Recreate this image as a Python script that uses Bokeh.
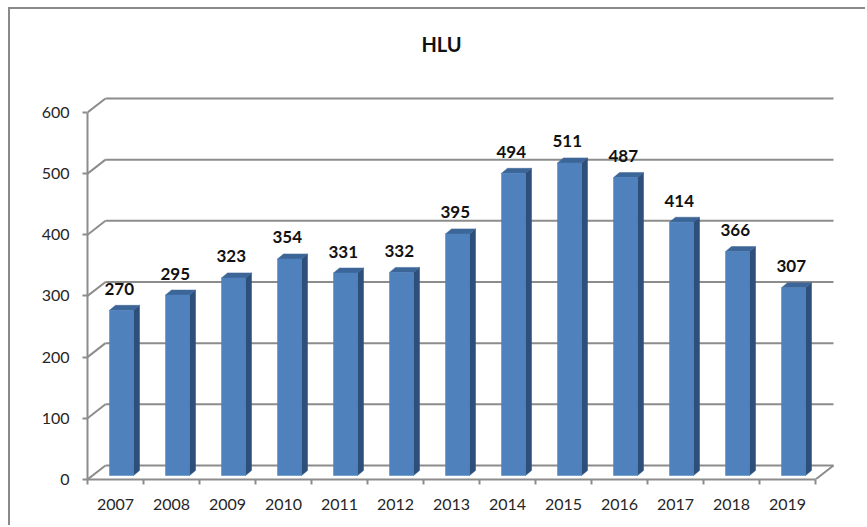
from bokeh.plotting import figure
from bokeh.models import FixedTicker, Range1d
from bokeh.core.properties import value
from bokeh.embed import file_html
from bokeh.resources import INLINE

# ---- data ----
years = ["2007", "2008", "2009", "2010", "2011", "2012", "2013",
         "2014", "2015", "2016", "2017", "2018", "2019"]
counts = [270, 295, 323, 354, 331, 332, 395, 494, 511, 487, 414, 366, 307]
y_ticks = [0, 100, 200, 300, 400, 500, 600]
title_text = "HLU"

# ---- geometry (pixel constants -> data units) ----
PX_X = 56.0          # px per category
PX_Y = 0.6117        # px per value unit
WALL_DX = 18.0 / PX_X          # depth of the floor / back wall
WALL_DY = 14.0 / PX_Y
BAR_BASE = 4.0 / PX_Y          # bars stand a bit behind the front edge
BAR_L = -6.0 / PX_X            # front face left, relative to category centre
BAR_R = 18.0 / PX_X            # front face right
BAR_DX = 6.0 / PX_X            # bar depth
BAR_DY = 5.0 / PX_Y

FRONT = "#4f81bd"
SIDE = "#2d4f7a"
TOP = "#3c6598"
GRID = "#8c8c8c"
FONT = "Lato"

n = len(years)
xs = list(range(n))

p = figure(width=857, height=518, output_backend="svg", toolbar_location=None,
           x_range=Range1d(-0.5, 13.125), y_range=Range1d(0, 459.0 / PX_Y),
           min_border_left=77, min_border_right=17, min_border_top=11,
           min_border_bottom=48)
p.styles = {"margin-left": "8px", "margin-top": "7px",
            "border-top": "2px solid #8a8a8a", "border-left": "2px solid #8a8a8a"}
p.outline_line_color = None
p.xgrid.visible = False
p.ygrid.visible = False
p.background_fill_color = "white"
p.border_fill_color = "white"

# ---- y axis (front edge) ----
ya = p.yaxis[0]
ya.ticker = FixedTicker(ticks=y_ticks)
ya.bounds = (0, 600)
ya.axis_line_color = GRID
ya.axis_line_width = 2
ya.major_tick_line_color = GRID
ya.major_tick_line_width = 2
ya.major_tick_out = 5
ya.major_tick_in = 0
ya.minor_tick_line_color = None
ya.major_label_standoff = 13
ya.major_label_text_font = FONT
ya.major_label_text_font_size = "16px"
ya.major_label_text_color = "#262626"

# ---- x axis (front floor edge) ----
xa = p.xaxis[0]
xa.ticker = FixedTicker(ticks=xs, minor_ticks=[i - 0.5 for i in range(n + 1)])
xa.bounds = (-0.5, n - 0.5)
xa.major_label_overrides = {i: y for i, y in enumerate(years)}
xa.axis_line_color = GRID
xa.axis_line_width = 2
xa.major_tick_line_color = None
xa.major_tick_out = 0
xa.major_tick_in = 0
xa.minor_tick_line_color = GRID
xa.minor_tick_line_width = 2
xa.minor_tick_out = 5
xa.minor_tick_in = 0
xa.major_label_standoff = 14
xa.major_label_text_font = FONT
xa.major_label_text_font_size = "16px"
xa.major_label_text_color = "#262626"

# ---- back wall gridlines, left wall connectors, floor ----
x_left = -0.5
x_right = n - 0.5
p.segment(x0=[x_left + WALL_DX] * len(y_ticks), y0=[v + WALL_DY for v in y_ticks],
          x1=[x_right + WALL_DX] * len(y_ticks), y1=[v + WALL_DY for v in y_ticks],
          line_color=GRID, line_width=2)
p.segment(x0=[x_left] * len(y_ticks), y0=y_ticks,
          x1=[x_left + WALL_DX] * len(y_ticks), y1=[v + WALL_DY for v in y_ticks],
          line_color=GRID, line_width=2)
p.segment(x0=[x_right], y0=[0], x1=[x_right + WALL_DX], y1=[WALL_DY],
          line_color=GRID, line_width=2)

# ---- 3D bars ----
front_xs, front_ys, side_xs, side_ys, top_xs, top_ys = [], [], [], [], [], []
for i, v in zip(xs, counts):
    l, r = i + BAR_L, i + BAR_R
    b, t = BAR_BASE, BAR_BASE + v
    front_xs.append([l, r, r, l]); front_ys.append([b, b, t, t])
    side_xs.append([r, r + BAR_DX, r + BAR_DX, r]); side_ys.append([b, b + BAR_DY, t + BAR_DY, t])
    top_xs.append([l, r, r + BAR_DX, l + BAR_DX]); top_ys.append([t, t, t + BAR_DY, t + BAR_DY])
p.patches(side_xs, side_ys, fill_color=SIDE, line_color=SIDE, line_width=0.5)
p.patches(top_xs, top_ys, fill_color=TOP, line_color=TOP, line_width=0.5)
p.patches(front_xs, front_ys, fill_color=FRONT, line_color=FRONT, line_width=0.5)

# ---- value labels ----
p.text(x=xs, y=[BAR_BASE + v for v in counts], text=[str(v) for v in counts],
       x_offset=3.7, y_offset=-21.5,
       text_align="center", text_baseline="middle",
       text_font=value(FONT), text_font_style="bold", text_font_size="17px",
       text_color="#111111")

# ---- title ----
p.text(x=[(441 - 87) / PX_X - 0.5], y=[(479 - 43) / PX_Y], text=[title_text],
       text_align="center", text_baseline="middle",
       text_font=value(FONT), text_font_style="bold", text_font_size="20px",
       text_color="#111111")

open("out.html", "w").write(file_html(p, INLINE))
